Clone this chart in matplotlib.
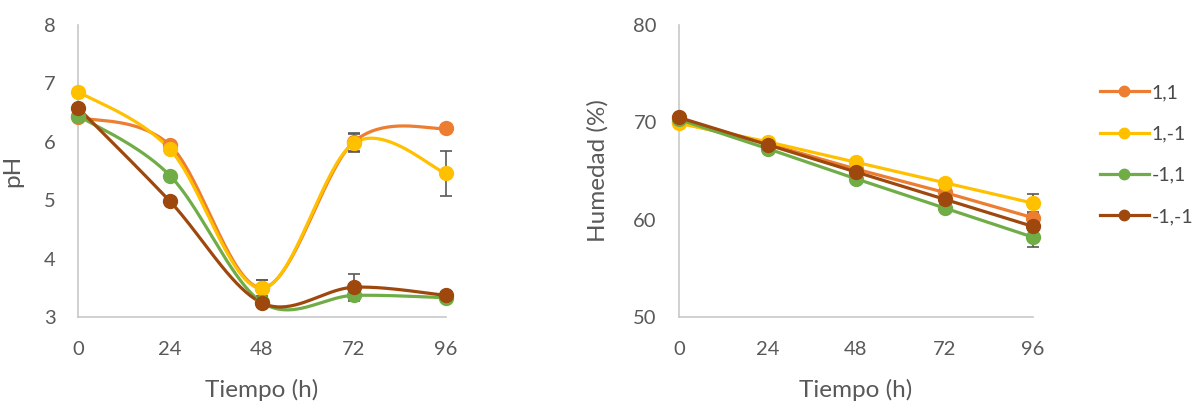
import numpy as np
import matplotlib
matplotlib.use("Agg")
import matplotlib.pyplot as plt
from matplotlib.lines import Line2D

plt.rcParams['font.family'] = ['Lato', 'DejaVu Sans']

# ---- data ----
tiempo = [0, 24, 48, 72, 96]
series = ["1,1", "1,-1", "-1,1", "-1,-1"]
colors = ["#ED7D31", "#FFC000", "#70AD47", "#9E480E"]

ph_11 = [6.42, 5.94, 3.50, 6.00, 6.23]
ph_1m1 = [6.86, 5.87, 3.49, 5.98, 5.46]
ph_m11 = [6.45, 5.42, 3.25, 3.37, 3.33]
ph_m1m1 = [6.58, 4.98, 3.24, 3.51, 3.37]
ph_err_11 = [0.05, 0.05, 0.14, 0.15, 0.05]
ph_err_1m1 = [0.03, 0.05, 0.14, 0.15, 0.38]
ph_err_m11 = [0.03, 0.03, 0.05, 0.10, 0.05]
ph_err_m1m1 = [0.03, 0.05, 0.05, 0.22, 0.05]

hum_11 = [70.0, 67.8, 65.2, 62.8, 60.2]
hum_1m1 = [69.9, 68.0, 65.9, 63.8, 61.7]
hum_m11 = [70.3, 67.3, 64.2, 61.2, 58.2]
hum_m1m1 = [70.5, 67.7, 64.9, 62.1, 59.3]
hum_err_11 = [0.2, 0.2, 0.2, 0.2, 0.5]
hum_err_1m1 = [0.2, 0.2, 0.2, 0.2, 0.9]
hum_err_m11 = [0.2, 0.2, 0.2, 0.2, 1.0]
hum_err_m1m1 = [0.2, 0.2, 0.2, 0.2, 0.4]

ph_values = [ph_11, ph_1m1, ph_m11, ph_m1m1]
ph_errors = [ph_err_11, ph_err_1m1, ph_err_m11, ph_err_m1m1]
hum_values = [hum_11, hum_1m1, hum_m11, hum_m1m1]
hum_errors = [hum_err_11, hum_err_1m1, hum_err_m11, hum_err_m1m1]

TEXT = "#595959"
SPINE = "#c8c8c8"


def smooth_curve(x, y, n=40):
    """Cubic Bezier smoothing through every point (spreadsheet-style)."""
    x = np.asarray(x, float)
    y = np.asarray(y, float)
    px = np.concatenate([[x[0]], x, [x[-1]]])
    py = np.concatenate([[y[0]], y, [y[-1]]])
    xs, ys = [], []
    t = np.linspace(0, 1, n)
    for i in range(1, len(px) - 2):
        p0 = np.array([px[i], py[i]])
        p3 = np.array([px[i + 1], py[i + 1]])
        p1 = p0 + (np.array([px[i + 1], py[i + 1]]) - np.array([px[i - 1], py[i - 1]])) / 6
        p2 = p3 - (np.array([px[i + 2], py[i + 2]]) - np.array([px[i], py[i]])) / 6
        b = ((1 - t) ** 3)[:, None] * p0 + (3 * (1 - t) ** 2 * t)[:, None] * p1 \
            + (3 * (1 - t) * t ** 2)[:, None] * p2 + (t ** 3)[:, None] * p3
        xs.append(b[:, 0])
        ys.append(b[:, 1])
    return np.concatenate(xs), np.concatenate(ys)


def style_axes(ax, yticks, ylabel):
    for s in ["top", "right"]:
        ax.spines[s].set_visible(False)
    for s in ["left", "bottom"]:
        ax.spines[s].set_color(SPINE)
        ax.spines[s].set_linewidth(1.2)
    ax.set_xlim(0, 96)
    ax.set_xticks(tiempo)
    ax.set_yticks(yticks)
    ax.set_ylim(yticks[0], yticks[-1])
    ax.tick_params(axis="both", length=0, labelsize=14.5, colors=TEXT)
    ax.tick_params(axis="y", pad=16)
    ax.tick_params(axis="x", pad=17)
    ax.set_xlabel("Tiempo (h)", fontsize=17.5, color=TEXT, labelpad=15)
    ax.set_ylabel(ylabel, fontsize=17.5, color=TEXT)
    ax.patch.set_alpha(0)


fig = plt.figure(figsize=(11.93, 4.03), dpi=100)
ax1 = fig.add_axes([78 / 1193, 1 - 317 / 403, (446 - 78) / 1193, (317 - 25) / 403])
ax2 = fig.add_axes([679 / 1193, 1 - 317 / 403, (1033 - 679) / 1193, (317 - 25) / 403])

for vals, errs, c in zip(ph_values, ph_errors, colors):
    ax1.errorbar(tiempo, vals, yerr=errs, fmt="none", ecolor=TEXT, elinewidth=1.2,
                 capsize=4.5, capthick=1.2, zorder=2, clip_on=False)
for vals, c in zip(ph_values, colors):
    sx, sy = smooth_curve(tiempo, vals)
    ax1.plot(sx, sy, color=c, lw=2.3, zorder=3, clip_on=False, solid_capstyle="round")
    ax1.plot(tiempo, vals, "o", color=c, ms=10, zorder=4, clip_on=False)

for vals, errs, c in zip(hum_values, hum_errors, colors):
    ax2.errorbar(tiempo, vals, yerr=errs, fmt="none", ecolor=TEXT, elinewidth=1.2,
                 capsize=4.5, capthick=1.2, zorder=2, clip_on=False)
for vals, c in zip(hum_values, colors):
    ax2.plot(tiempo, vals, "-o", color=c, lw=2.3, ms=10, zorder=3, clip_on=False)

style_axes(ax1, [3, 4, 5, 6, 7, 8], "pH")
style_axes(ax2, [50, 60, 70, 80], "Humedad (%)")
ax1.yaxis.set_label_coords(-55 / 368, 0.5)
ax2.yaxis.set_label_coords(-70 / 354, 0.5)

handles = [Line2D([], [], color=c, lw=2.3, marker="o", ms=7.5) for c in colors]
leg = fig.legend(handles, series, loc="upper left", bbox_to_anchor=(1100 / 1193, 1 - 84 / 403),
                 frameon=False, fontsize=14, handlelength=2.5, handletextpad=0.15,
                 labelspacing=1.25, borderpad=0, borderaxespad=0)
for t in leg.get_texts():
    t.set_color("#4a4a4a")

fig.savefig("out.png", dpi=100)
